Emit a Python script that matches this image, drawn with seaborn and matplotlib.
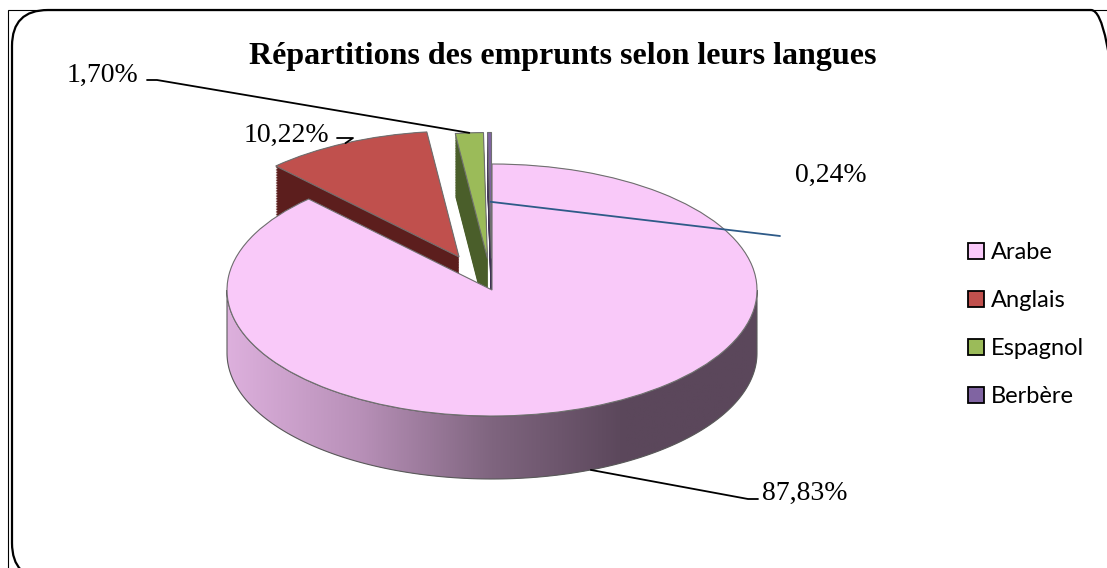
import numpy as np
import matplotlib
matplotlib.use("Agg")
import matplotlib.pyplot as plt
import seaborn as sns
from matplotlib.patches import Polygon, Patch, FancyBboxPatch, Rectangle
from matplotlib.colors import LinearSegmentedColormap
from matplotlib.transforms import IdentityTransform

# Données
langues = ["Arabe", "Anglais", "Espagnol", "Berbère"]
parts = [87.83, 10.22, 1.70, 0.24]
etiquettes = ["87,83%", "10,22%", "1,70%", "0,24%"]
couleurs = ["#F9C9F9", "#C0504D", "#9BBB59", "#8064A2"]
couleurs_cote = ["#8E6F8E", "#5C1E1D", "#4A5E2A", "#3F3252"]
eclat = [0.0, 0.29, 0.25, 0.25]

sns.set_style("white")
plt.rcParams["font.family"] = ["Liberation Serif", "DejaVu Serif"]
plt.rcParams["text.color"] = "black"

W, H = 1107, 568
fig = plt.figure(figsize=(W / 100, H / 100), dpi=100)
ax = fig.add_axes([0, 0, 1, 1])

# position / taille de l'ellipse en pixels
CX, CY, SX, SY = 492, 290, 265, 126
DEPTH = 0.5


def px(x, y):
    return (x - CX) / SX, (CY - y) / SY


# épaisseur du camembert : copies décalées vers le bas
n = 40
for k in range(n):
    off = DEPTH * (1 - k / (n - 1))
    ax.pie(parts, explode=eclat, colors=couleurs_cote, startangle=90,
           counterclock=False, center=(0, -off),
           wedgeprops=dict(linewidth=0, zorder=1))

# face avant en dégradé
t = np.linspace(np.pi, 2 * np.pi, 200)
haut = np.column_stack([np.cos(t), np.sin(t)])
bas = np.column_stack([np.cos(t), np.sin(t) - DEPTH])[::-1]
cote = Polygon(np.vstack([haut, bas]), closed=True, fill=False,
               edgecolor="#5a5a5a", linewidth=0.8, zorder=2.5,
               transform=ax.transData)
ax.add_patch(cote)
cmap = LinearSegmentedColormap.from_list(
    "cote", ["#DDB0DD", "#B890B8", "#7F657F", "#5B475B", "#5B475B"])
grad = np.linspace(0, 1, 256).reshape(1, -1)
im = ax.imshow(grad, cmap=cmap, extent=(-1, 1, -1 - DEPTH, 0),
               aspect="auto", zorder=2)
im.set_clip_path(cote)

# dessus
wedges, _ = ax.pie(parts, explode=eclat, colors=couleurs, startangle=90,
                   counterclock=False,
                   wedgeprops=dict(edgecolor="#707070", linewidth=0.8, zorder=3))

ax.set_aspect("auto")
ax.set_xlim(px(0, 0)[0], px(W, 0)[0])
ax.set_ylim(px(0, H)[1], px(0, 0)[1])
ax.axis("off")


def ancre(w, r=1.0, dy=0.0):
    a = np.deg2rad((w.theta1 + w.theta2) / 2)
    cx, cy = w.center
    return cx + r * np.cos(a), cy + r * np.sin(a) + dy


fs = 20
# Arabe
a = ancre(wedges[0], dy=-DEPTH)
c1, c2 = px(748, 499), px(758, 499)
ax.plot([a[0], c1[0], c2[0]], [a[1], c1[1], c2[1]], color="black", lw=1.3, zorder=5)
ax.text(*px(762, 500), etiquettes[0], fontsize=fs, va="baseline", ha="left")
# Anglais
a = ancre(wedges[1])
c1, c2 = px(353, 138), px(337, 138)
ax.plot([a[0], c1[0], c2[0]], [a[1], c1[1], c2[1]], color="black", lw=1.3, zorder=5)
ax.text(*px(329, 142), etiquettes[1], fontsize=fs, va="baseline", ha="right")
# Espagnol
a = ancre(wedges[2])
c1, c2 = px(157, 80), px(147, 80)
ax.plot([a[0], c1[0], c2[0]], [a[1], c1[1], c2[1]], color="black", lw=1.3, zorder=5)
ax.text(*px(138, 82), etiquettes[2], fontsize=fs, va="baseline", ha="right")
# Berbère
a = ancre(wedges[3], r=0.45)
c1 = px(780, 236)
ax.plot([a[0], c1[0]], [a[1], c1[1]], color="#2E5A88", lw=1.3, zorder=5)
ax.text(*px(795, 182), etiquettes[3], fontsize=fs, va="baseline", ha="left")

# titre
fig.text(563 / W, 1 - 64 / H, "Répartitions des emprunts selon leurs langues",
         fontsize=23, fontweight="bold", ha="center", va="baseline")

# légende
poignees = [Patch(facecolor=c, edgecolor="black", linewidth=1.3) for c in couleurs]
fig.legend(poignees, langues, loc="upper left",
           bbox_to_anchor=(968 / W, 1 - 242 / H), frameon=False,
           prop=dict(family=["Lato", "DejaVu Sans"], size=17),
           handlelength=0.68, handleheight=0.68, handletextpad=0.3,
           labelspacing=1.15, borderpad=0, borderaxespad=0)

# cadres
fig.add_artist(Rectangle((8, -20), 1200, H - 10 + 20, transform=IdentityTransform(),
                         fill=False, edgecolor="black", lw=0.8))
fig.add_artist(FancyBboxPatch((12, -11), 1115, 569, transform=IdentityTransform(),
                              boxstyle="round,pad=0,rounding_size=36",
                              fill=False, edgecolor="black", lw=1.6))

fig.savefig("out.png", dpi=100)
